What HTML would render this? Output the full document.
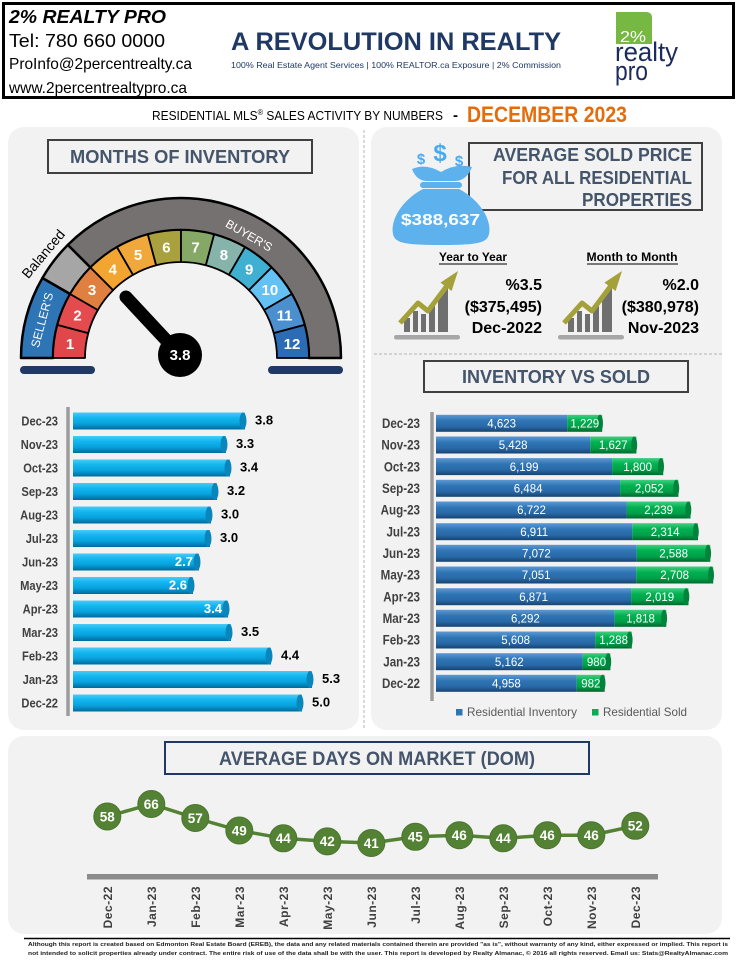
<!DOCTYPE html>
<html><head><meta charset="utf-8">
<style>
html,body{margin:0;padding:0;background:#fff;}
svg{display:block;}
text{font-family:"Liberation Sans",Arial,sans-serif;}
</style></head>
<body>
<svg width="737" height="960" viewBox="0 0 737 960" xmlns="http://www.w3.org/2000/svg">
<defs>
 <linearGradient id="cy" x1="0" y1="0" x2="0" y2="1">
  <stop offset="0" stop-color="#48cbf7"/>
  <stop offset="0.3" stop-color="#14b6ef"/>
  <stop offset="0.65" stop-color="#07a2dd"/>
  <stop offset="1" stop-color="#006a9c"/>
 </linearGradient>
 <linearGradient id="bl" x1="0" y1="0" x2="0" y2="1">
  <stop offset="0" stop-color="#5d99d4"/>
  <stop offset="0.35" stop-color="#2f75b5"/>
  <stop offset="0.7" stop-color="#2968a6"/>
  <stop offset="1" stop-color="#17436f"/>
 </linearGradient>
 <linearGradient id="gr" x1="0" y1="0" x2="0" y2="1">
  <stop offset="0" stop-color="#3fcf80"/>
  <stop offset="0.35" stop-color="#00b050"/>
  <stop offset="0.7" stop-color="#00a048"/>
  <stop offset="1" stop-color="#00662d"/>
 </linearGradient>
</defs>

<!-- HEADER -->
<rect x="3.5" y="3.5" width="730" height="94" fill="#fff" stroke="#000" stroke-width="3"/>
<text x="9" y="23" font-size="18" font-weight="bold" font-style="italic" fill="#000" textLength="157" lengthAdjust="spacingAndGlyphs">2% REALTY PRO</text>
<text x="9" y="47" font-size="18" fill="#000" textLength="156" lengthAdjust="spacingAndGlyphs">Tel: 780 660 0000</text>
<text x="9" y="69" font-size="16" fill="#000" textLength="183" lengthAdjust="spacingAndGlyphs">ProInfo@2percentrealty.ca</text>
<text x="9" y="93" font-size="16" fill="#000" textLength="178" lengthAdjust="spacingAndGlyphs">www.2percentrealtypro.ca</text>
<text x="231" y="50" font-size="25" font-weight="bold" fill="#1f3864" textLength="330" lengthAdjust="spacingAndGlyphs">A REVOLUTION IN REALTY</text>
<text x="231" y="68" font-size="8.5" fill="#1f3864" textLength="330" lengthAdjust="spacingAndGlyphs">100% Real Estate Agent Services | 100% REALTOR.ca Exposure | 2% Commission</text>
<!-- logo -->
<path d="M616,12 L646,12 Q652,12 652,18 L652,44 L616,44 Z" fill="#77b843"/>
<text x="620" y="42" font-size="16" fill="#fff" textLength="26" lengthAdjust="spacingAndGlyphs">2%</text>
<text x="615" y="61" font-size="27" fill="#1c2b5e" textLength="63" lengthAdjust="spacingAndGlyphs">realty</text>
<text x="615" y="80" font-size="27" fill="#1c2b5e" textLength="33" lengthAdjust="spacingAndGlyphs">pro</text>

<!-- subtitle -->
<text x="152" y="120" font-size="13" fill="#000" textLength="291" lengthAdjust="spacingAndGlyphs">RESIDENTIAL MLS<tspan font-size="8" dy="-5">®</tspan><tspan dy="5"> SALES ACTIVITY BY NUMBERS</tspan></text>
<text x="453" y="120" font-size="15" font-weight="bold" fill="#000">-</text>
<text x="467" y="122" font-size="22" font-weight="bold" fill="#e46c0a" textLength="160" lengthAdjust="spacingAndGlyphs">DECEMBER 2023</text>

<!-- PANELS -->
<rect x="8" y="127" width="351" height="603" rx="16" fill="#f2f2f2"/>
<rect x="371" y="127" width="351" height="603" rx="16" fill="#f2f2f2"/>
<rect x="8" y="736" width="714" height="198" rx="16" fill="#f2f2f2"/>
<line x1="364" y1="130" x2="364" y2="730" stroke="#b4b4b4" stroke-width="1" stroke-dasharray="3,2"/>
<line x1="374" y1="354" x2="724" y2="354" stroke="#b4b4b4" stroke-width="1" stroke-dasharray="3,2"/>

<!-- MONTHS OF INVENTORY title -->
<rect x="48" y="140" width="264" height="33" fill="#f2f2f2" stroke="#404040" stroke-width="2"/>
<text x="180" y="163" font-size="18" font-weight="bold" fill="#44546a" text-anchor="middle" textLength="220" lengthAdjust="spacingAndGlyphs">MONTHS OF INVENTORY</text>

<!-- GAUGE outer ring -->
<g stroke="#000" stroke-width="2.5" stroke-linejoin="round">
<path d="M21,358 A160,160 0 0 1 42.44,278 L70.15,294 A128,128 0 0 0 53,358 Z" fill="#2e75b6"/>
<path d="M42.44,278 A160,160 0 0 1 67.86,244.86 L90.49,267.49 A128,128 0 0 0 70.15,294 Z" fill="#a6a6a6"/>
<path d="M67.86,244.86 A160,160 0 0 1 341,358 L309,358 A128,128 0 0 0 90.49,267.49 Z" fill="#767171"/>
</g>
<!-- colored segments -->
<g stroke="#000" stroke-width="1.8" stroke-linejoin="round">
<path d="M53,358 A128,128 0 0 1 57.36,324.87 L88.27,333.15 A96,96 0 0 0 85,358 Z" fill="#e0464a"/>
<path d="M57.36,324.87 A128,128 0 0 1 70.15,294 L97.86,310 A96,96 0 0 0 88.27,333.15 Z" fill="#e34b4f"/>
<path d="M70.15,294 A128,128 0 0 1 90.49,267.49 L113.12,290.12 A96,96 0 0 0 97.86,310 Z" fill="#df8040"/>
<path d="M90.49,267.49 A128,128 0 0 1 117,247.15 L133,274.86 A96,96 0 0 0 113.12,290.12 Z" fill="#f2a530"/>
<path d="M117,247.15 A128,128 0 0 1 147.87,234.36 L156.15,265.27 A96,96 0 0 0 133,274.86 Z" fill="#f0a83a"/>
<path d="M147.87,234.36 A128,128 0 0 1 181,230 L181,262 A96,96 0 0 0 156.15,265.27 Z" fill="#a8a13e"/>
<path d="M181,230 A128,128 0 0 1 214.13,234.36 L205.85,265.27 A96,96 0 0 0 181,262 Z" fill="#86a866"/>
<path d="M214.13,234.36 A128,128 0 0 1 245,247.15 L229,274.86 A96,96 0 0 0 205.85,265.27 Z" fill="#86b3aa"/>
<path d="M245,247.15 A128,128 0 0 1 271.51,267.49 L248.88,290.12 A96,96 0 0 0 229,274.86 Z" fill="#3fb0d2"/>
<path d="M271.51,267.49 A128,128 0 0 1 291.85,294 L264.14,310 A96,96 0 0 0 248.88,290.12 Z" fill="#63c1f4"/>
<path d="M291.85,294 A128,128 0 0 1 304.64,324.87 L273.73,333.15 A96,96 0 0 0 264.14,310 Z" fill="#4b8fcf"/>
<path d="M304.64,324.87 A128,128 0 0 1 309,358 L277,358 A96,96 0 0 0 273.73,333.15 Z" fill="#2c6cb7"/>
</g>
<g font-size="15" font-weight="bold" fill="#fff" text-anchor="middle">
<text x="70" y="349">1</text>
<text x="77.5" y="320.5">2</text>
<text x="92" y="295">3</text>
<text x="112.8" y="274.5">4</text>
<text x="138" y="260">5</text>
<text x="166.4" y="252.3">6</text>
<text x="195.6" y="252.3">7</text>
<text x="223.9" y="260">8</text>
<text x="249.2" y="274.5">9</text>
<text x="269.9" y="295">10</text>
<text x="284.5" y="320.5">11</text>
<text x="292" y="349">12</text>
</g>
<text x="0" y="0" font-size="12" fill="#fff" text-anchor="middle" transform="translate(46,321) rotate(-75)">SELLER'S</text>
<text x="0" y="0" font-size="14" fill="#000" text-anchor="middle" transform="translate(47,257) rotate(-50)">Balanced</text>
<text x="0" y="0" font-size="12" fill="#fff" text-anchor="middle" transform="translate(247,239) rotate(30)">BUYER'S</text>

<!-- needle -->
<line x1="181" y1="356" x2="126" y2="297" stroke="#000" stroke-width="13" stroke-linecap="round"/>
<circle cx="180" cy="355" r="22" fill="#000"/>
<text x="180" y="360" font-size="15" font-weight="bold" fill="#fff" text-anchor="middle">3.8</text>
<rect x="20" y="366" width="75" height="8" rx="4" fill="#1f3864"/>
<rect x="268" y="366" width="75" height="8" rx="4" fill="#1f3864"/>

<!-- LEFT BAR CHART -->
<line x1="68" y1="407" x2="68" y2="716" stroke="#9c9c9c" stroke-width="3.5"/>
<g>
<rect x="73" y="412.5" width="172" height="17" fill="url(#cy)"/><ellipse cx="243" cy="421" rx="3.5" ry="8.5" fill="#0a86bd"/>
<rect x="73" y="436" width="153" height="17" fill="url(#cy)"/><ellipse cx="224" cy="444.5" rx="3.5" ry="8.5" fill="#0a86bd"/>
<rect x="73" y="459.5" width="157" height="17" fill="url(#cy)"/><ellipse cx="228" cy="468" rx="3.5" ry="8.5" fill="#0a86bd"/>
<rect x="73" y="483" width="144" height="17" fill="url(#cy)"/><ellipse cx="215" cy="491.5" rx="3.5" ry="8.5" fill="#0a86bd"/>
<rect x="73" y="506.5" width="138" height="17" fill="url(#cy)"/><ellipse cx="209" cy="515" rx="3.5" ry="8.5" fill="#0a86bd"/>
<rect x="73" y="530" width="137" height="17" fill="url(#cy)"/><ellipse cx="208" cy="538.5" rx="3.5" ry="8.5" fill="#0a86bd"/>
<rect x="73" y="553.5" width="126" height="17" fill="url(#cy)"/><ellipse cx="197" cy="562" rx="3.5" ry="8.5" fill="#0a86bd"/>
<rect x="73" y="577" width="120" height="17" fill="url(#cy)"/><ellipse cx="191" cy="585.5" rx="3.5" ry="8.5" fill="#0a86bd"/>
<rect x="73" y="600.5" width="155" height="17" fill="url(#cy)"/><ellipse cx="226" cy="609" rx="3.5" ry="8.5" fill="#0a86bd"/>
<rect x="73" y="624" width="158" height="17" fill="url(#cy)"/><ellipse cx="229" cy="632.5" rx="3.5" ry="8.5" fill="#0a86bd"/>
<rect x="73" y="647.5" width="198" height="17" fill="url(#cy)"/><ellipse cx="269" cy="656" rx="3.5" ry="8.5" fill="#0a86bd"/>
<rect x="73" y="671" width="239" height="17" fill="url(#cy)"/><ellipse cx="310" cy="679.5" rx="3.5" ry="8.5" fill="#0a86bd"/>
<rect x="73" y="694.5" width="229" height="17" fill="url(#cy)"/><ellipse cx="300" cy="703" rx="3.5" ry="8.5" fill="#0a86bd"/>
</g>
<g transform="translate(58,0) scale(0.86,1)" font-size="13" font-weight="bold" fill="#404040" text-anchor="end">
<text x="0" y="425.5">Dec-23</text>
<text x="0" y="449">Nov-23</text>
<text x="0" y="472.5">Oct-23</text>
<text x="0" y="496">Sep-23</text>
<text x="0" y="519.5">Aug-23</text>
<text x="0" y="543">Jul-23</text>
<text x="0" y="566.5">Jun-23</text>
<text x="0" y="590">May-23</text>
<text x="0" y="613.5">Apr-23</text>
<text x="0" y="637">Mar-23</text>
<text x="0" y="660.5">Feb-23</text>
<text x="0" y="684">Jan-23</text>
<text x="0" y="707.5">Dec-22</text>
</g>
<g font-size="13" font-weight="bold" fill="#000">
<text x="255" y="424.5">3.8</text>
<text x="236" y="448">3.3</text>
<text x="240" y="471.5">3.4</text>
<text x="227" y="495">3.2</text>
<text x="221" y="518.5">3.0</text>
<text x="220" y="542">3.0</text>
<text x="193" y="566" fill="#fff" text-anchor="end">2.7</text>
<text x="187" y="589.5" fill="#fff" text-anchor="end">2.6</text>
<text x="222" y="613" fill="#fff" text-anchor="end">3.4</text>
<text x="241" y="636">3.5</text>
<text x="281" y="659.5">4.4</text>
<text x="322" y="683">5.3</text>
<text x="312" y="706.5">5.0</text>
</g>

<!-- RIGHT TOP: AVERAGE SOLD PRICE -->
<rect x="469" y="143" width="233" height="67" fill="#f2f2f2" stroke="#404040" stroke-width="2"/>
<g font-size="18" font-weight="bold" fill="#44546a" text-anchor="end">
<text x="692" y="161" textLength="199" lengthAdjust="spacingAndGlyphs">AVERAGE  SOLD PRICE</text>
<text x="692" y="184" textLength="190" lengthAdjust="spacingAndGlyphs">FOR ALL RESIDENTIAL</text>
<text x="692" y="206" textLength="110" lengthAdjust="spacingAndGlyphs">PROPERTIES</text>
</g>
<!-- money bag -->
<g fill="#5db2ee">
<path d="M423,189 L459,189 C480,200 492,220 489,234 C487,243 478,245 441,245 C404,245 395,243 393,234 C390,220 402,200 423,189 Z"/>
<rect x="420" y="182" width="42" height="6" rx="3"/>
<path d="M412,169 Q426,163 441,172 Q456,163 472,167 Q467,180 456,181 L426,181 Q416,180 412,169 Z"/>
</g>
<g font-weight="bold" fill="#4aaaf0" text-anchor="middle">
<text x="421" y="164" font-size="15">$</text>
<text x="440" y="161" font-size="24">$</text>
<text x="459" y="166" font-size="15">$</text>
</g>
<text x="440.5" y="225" font-size="16" font-weight="bold" fill="#fff" text-anchor="middle" textLength="79" lengthAdjust="spacingAndGlyphs">$388,637</text>

<text x="473" y="261" font-size="11.5" font-weight="bold" fill="#000" text-anchor="middle" textLength="68" lengthAdjust="spacingAndGlyphs">Year to Year</text>
<line x1="439" y1="264" x2="507" y2="264" stroke="#000" stroke-width="1"/>
<text x="632" y="261" font-size="11.5" font-weight="bold" fill="#000" text-anchor="middle" textLength="91" lengthAdjust="spacingAndGlyphs">Month to Month</text>
<line x1="587" y1="264" x2="678" y2="264" stroke="#000" stroke-width="1"/>

<!-- growth icons -->
<g id="icon1">
<rect x="394" y="335" width="66" height="4.5" rx="2.2" fill="#a6a6a6"/>
<g fill="#6f6f6f">
<rect x="404" y="318" width="6" height="14"/>
<rect x="413" y="311" width="5" height="21"/>
<rect x="421" y="314" width="5" height="18"/>
<rect x="429" y="305" width="6" height="27"/>
<path d="M438,296 L448,286 L448,332 L438,332 Z"/>
</g>
<polyline points="400,323 418,303 428,311 449,283" fill="none" stroke="#a5a13a" stroke-width="5" stroke-linejoin="round"/>
<path d="M458,271 L451.6,291 L440.4,282.6 Z" fill="#a5a13a"/>
</g>
<g transform="translate(164,0)">
<rect x="394" y="335" width="66" height="4.5" rx="2.2" fill="#a6a6a6"/>
<g fill="#6f6f6f">
<rect x="404" y="318" width="6" height="14"/>
<rect x="413" y="311" width="5" height="21"/>
<rect x="421" y="314" width="5" height="18"/>
<rect x="429" y="305" width="6" height="27"/>
<path d="M438,296 L448,286 L448,332 L438,332 Z"/>
</g>
<polyline points="400,323 418,303 428,311 449,283" fill="none" stroke="#a5a13a" stroke-width="5" stroke-linejoin="round"/>
<path d="M458,271 L451.6,291 L440.4,282.6 Z" fill="#a5a13a"/>
</g>
<g font-size="16" font-weight="bold" fill="#000" text-anchor="end">
<text x="542" y="290">%3.5</text>
<text x="542" y="312">($375,495)</text>
<text x="542" y="333">Dec-2022</text>
<text x="699" y="290">%2.0</text>
<text x="699" y="312">($380,978)</text>
<text x="699" y="333">Nov-2023</text>
</g>

<!-- INVENTORY VS SOLD -->
<rect x="424" y="361" width="264" height="31" fill="#f2f2f2" stroke="#404040" stroke-width="2"/>
<text x="556" y="383" font-size="18" font-weight="bold" fill="#44546a" text-anchor="middle" textLength="188" lengthAdjust="spacingAndGlyphs">INVENTORY VS SOLD</text>
<line x1="432" y1="412" x2="432" y2="701" stroke="#9c9c9c" stroke-width="3.5"/>
<g>
<rect x="436" y="414.8" width="131.3" height="17" fill="url(#bl)"/><rect x="567.3" y="414.8" width="34.9" height="17" fill="url(#gr)"/><ellipse cx="600" cy="423.3" rx="3" ry="8.5" fill="#00843c"/>
<rect x="436" y="436.5" width="154.2" height="17" fill="url(#bl)"/><rect x="590.2" y="436.5" width="46.2" height="17" fill="url(#gr)"/><ellipse cx="634.2" cy="445" rx="3" ry="8.5" fill="#00843c"/>
<rect x="436" y="458.1" width="176.1" height="17" fill="url(#bl)"/><rect x="612.1" y="458.1" width="51.1" height="17" fill="url(#gr)"/><ellipse cx="661" cy="466.6" rx="3" ry="8.5" fill="#00843c"/>
<rect x="436" y="479.8" width="184.1" height="17" fill="url(#bl)"/><rect x="620.1" y="479.8" width="58.3" height="17" fill="url(#gr)"/><ellipse cx="676.2" cy="488.3" rx="3" ry="8.5" fill="#00843c"/>
<rect x="436" y="501.5" width="190.9" height="17" fill="url(#bl)"/><rect x="626.9" y="501.5" width="63.6" height="17" fill="url(#gr)"/><ellipse cx="688.3" cy="510" rx="3" ry="8.5" fill="#00843c"/>
<rect x="436" y="523.2" width="196.3" height="17" fill="url(#bl)"/><rect x="632.3" y="523.2" width="65.7" height="17" fill="url(#gr)"/><ellipse cx="695.8" cy="531.7" rx="3" ry="8.5" fill="#00843c"/>
<rect x="436" y="544.8" width="200.8" height="17" fill="url(#bl)"/><rect x="636.8" y="544.8" width="73.5" height="17" fill="url(#gr)"/><ellipse cx="708.1" cy="553.3" rx="3" ry="8.5" fill="#00843c"/>
<rect x="436" y="566.5" width="200.2" height="17" fill="url(#bl)"/><rect x="636.2" y="566.5" width="77" height="17" fill="url(#gr)"/><ellipse cx="711" cy="575" rx="3" ry="8.5" fill="#00843c"/>
<rect x="436" y="588.2" width="195.1" height="17" fill="url(#bl)"/><rect x="631.1" y="588.2" width="57.4" height="17" fill="url(#gr)"/><ellipse cx="686.3" cy="596.7" rx="3" ry="8.5" fill="#00843c"/>
<rect x="436" y="609.8" width="178.7" height="17" fill="url(#bl)"/><rect x="614.7" y="609.8" width="51.6" height="17" fill="url(#gr)"/><ellipse cx="664.1" cy="618.3" rx="3" ry="8.5" fill="#00843c"/>
<rect x="436" y="631.5" width="159.3" height="17" fill="url(#bl)"/><rect x="595.3" y="631.5" width="36.5" height="17" fill="url(#gr)"/><ellipse cx="629.6" cy="640" rx="3" ry="8.5" fill="#00843c"/>
<rect x="436" y="653.2" width="146.6" height="17" fill="url(#bl)"/><rect x="582.6" y="653.2" width="27.8" height="17" fill="url(#gr)"/><ellipse cx="608.2" cy="661.7" rx="3" ry="8.5" fill="#00843c"/>
<rect x="436" y="674.8" width="140.8" height="17" fill="url(#bl)"/><rect x="576.8" y="674.8" width="27.9" height="17" fill="url(#gr)"/><ellipse cx="602.5" cy="683.3" rx="3" ry="8.5" fill="#00843c"/>
</g>
<g font-size="11.5" fill="#fff" text-anchor="middle">
<text x="501.7" y="427.5">4,623</text><text x="584.8" y="427.5">1,229</text>
<text x="513.1" y="449.2">5,428</text><text x="613.3" y="449.2">1,627</text>
<text x="524.1" y="470.8">6,199</text><text x="637.7" y="470.8">1,800</text>
<text x="528.1" y="492.5">6,484</text><text x="649.3" y="492.5">2,052</text>
<text x="531.5" y="514.2">6,722</text><text x="658.7" y="514.2">2,239</text>
<text x="534.2" y="535.9">6,911</text><text x="665.2" y="535.9">2,314</text>
<text x="536.4" y="557.5">7,072</text><text x="673.6" y="557.5">2,588</text>
<text x="536.1" y="579.2">7,051</text><text x="674.7" y="579.2">2,708</text>
<text x="533.6" y="600.9">6,871</text><text x="659.8" y="600.9">2,019</text>
<text x="525.4" y="622.5">6,292</text><text x="640.5" y="622.5">1,818</text>
<text x="515.7" y="644.2">5,608</text><text x="613.6" y="644.2">1,288</text>
<text x="509.3" y="665.9">5,162</text><text x="596.5" y="665.9">980</text>
<text x="506.4" y="687.5">4,958</text><text x="590.8" y="687.5">982</text>
</g>
<g transform="translate(420,0) scale(0.86,1)" font-size="13.5" font-weight="bold" fill="#404040" text-anchor="end">
<text x="0" y="428">Dec-23</text>
<text x="0" y="449.7">Nov-23</text>
<text x="0" y="471.3">Oct-23</text>
<text x="0" y="493">Sep-23</text>
<text x="0" y="514.7">Aug-23</text>
<text x="0" y="536.4">Jul-23</text>
<text x="0" y="558">Jun-23</text>
<text x="0" y="579.7">May-23</text>
<text x="0" y="601.4">Apr-23</text>
<text x="0" y="623">Mar-23</text>
<text x="0" y="644.7">Feb-23</text>
<text x="0" y="666.4">Jan-23</text>
<text x="0" y="688">Dec-22</text>
</g>
<rect x="456" y="709" width="6.5" height="6.5" fill="#2e75b6"/>
<text x="467" y="716" font-size="12" fill="#595959" textLength="110" lengthAdjust="spacingAndGlyphs">Residential Inventory</text>
<rect x="592" y="709" width="6.5" height="6.5" fill="#00b050"/>
<text x="603" y="716" font-size="12" fill="#595959" textLength="84" lengthAdjust="spacingAndGlyphs">Residential Sold</text>

<!-- DOM -->
<rect x="165" y="742" width="424" height="32" fill="#f2f2f2" stroke="#203864" stroke-width="2"/>
<text x="377" y="765" font-size="19" font-weight="bold" fill="#44546a" text-anchor="middle" textLength="316" lengthAdjust="spacingAndGlyphs">AVERAGE DAYS ON MARKET (DOM)</text>
<polyline points="107.3,816.5 151.3,804 195.3,818 239.3,830.5 283.3,838.3 327.3,841.4 371.3,843 415.3,836.8 459.3,835.2 503.3,838.3 547.3,835.2 591.3,835.2 635.3,825.8" fill="none" stroke="#548235" stroke-width="3.5"/>
<g fill="#548235" stroke="#4a752e" stroke-width="1">
<circle cx="107.3" cy="816.5" r="13.5"/>
<circle cx="151.3" cy="804" r="13.5"/>
<circle cx="195.3" cy="818" r="13.5"/>
<circle cx="239.3" cy="830.5" r="13.5"/>
<circle cx="283.3" cy="838.3" r="13.5"/>
<circle cx="327.3" cy="841.4" r="13.5"/>
<circle cx="371.3" cy="843" r="13.5"/>
<circle cx="415.3" cy="836.8" r="13.5"/>
<circle cx="459.3" cy="835.2" r="13.5"/>
<circle cx="503.3" cy="838.3" r="13.5"/>
<circle cx="547.3" cy="835.2" r="13.5"/>
<circle cx="591.3" cy="835.2" r="13.5"/>
<circle cx="635.3" cy="825.8" r="13.5"/>
</g>
<g font-size="13.5" font-weight="bold" fill="#fff" text-anchor="middle">
<text x="107.3" y="821.3">58</text>
<text x="151.3" y="808.8">66</text>
<text x="195.3" y="822.8">57</text>
<text x="239.3" y="835.3">49</text>
<text x="283.3" y="843.1">44</text>
<text x="327.3" y="846.2">42</text>
<text x="371.3" y="847.8">41</text>
<text x="415.3" y="841.6">45</text>
<text x="459.3" y="840">46</text>
<text x="503.3" y="843.1">44</text>
<text x="547.3" y="840">46</text>
<text x="591.3" y="840">46</text>
<text x="635.3" y="830.6">52</text>
</g>
<rect x="87" y="874" width="571" height="5.5" fill="#8c8c8c"/>
<g font-size="12" font-weight="bold" fill="#404040" text-anchor="end" letter-spacing="0.5">
<text transform="translate(111.8,886) rotate(-90)">Dec-22</text>
<text transform="translate(155.8,886) rotate(-90)">Jan-23</text>
<text transform="translate(199.8,886) rotate(-90)">Feb-23</text>
<text transform="translate(243.8,886) rotate(-90)">Mar-23</text>
<text transform="translate(287.8,886) rotate(-90)">Apr-23</text>
<text transform="translate(331.8,886) rotate(-90)">May-23</text>
<text transform="translate(375.8,886) rotate(-90)">Jun-23</text>
<text transform="translate(419.8,886) rotate(-90)">Jul-23</text>
<text transform="translate(463.8,886) rotate(-90)">Aug-23</text>
<text transform="translate(507.8,886) rotate(-90)">Sep-23</text>
<text transform="translate(551.8,886) rotate(-90)">Oct-23</text>
<text transform="translate(595.8,886) rotate(-90)">Nov-23</text>
<text transform="translate(639.8,886) rotate(-90)">Dec-23</text>
</g>

<!-- FOOTER -->
<line x1="24" y1="938.5" x2="730" y2="938.5" stroke="#000" stroke-width="1.5"/>
<text x="28" y="946" font-size="5.8" font-weight="bold" fill="#222" textLength="700" lengthAdjust="spacingAndGlyphs">Although this report is created based on Edmonton Real Estate Board (EREB), the data and any related materials contained therein are provided "as is", without warranty of any kind, either expressed or implied.  This report is</text>
<text x="28" y="955" font-size="5.8" font-weight="bold" fill="#222" textLength="700" lengthAdjust="spacingAndGlyphs">not intended to solicit properties already under contract.  The entire risk of use of the data shall be with the user.  This report is developed by Realty Almanac, © 2016 all rights reserved. Email us: Stats@RealtyAlmanac.com</text>
</svg>
</body></html>
